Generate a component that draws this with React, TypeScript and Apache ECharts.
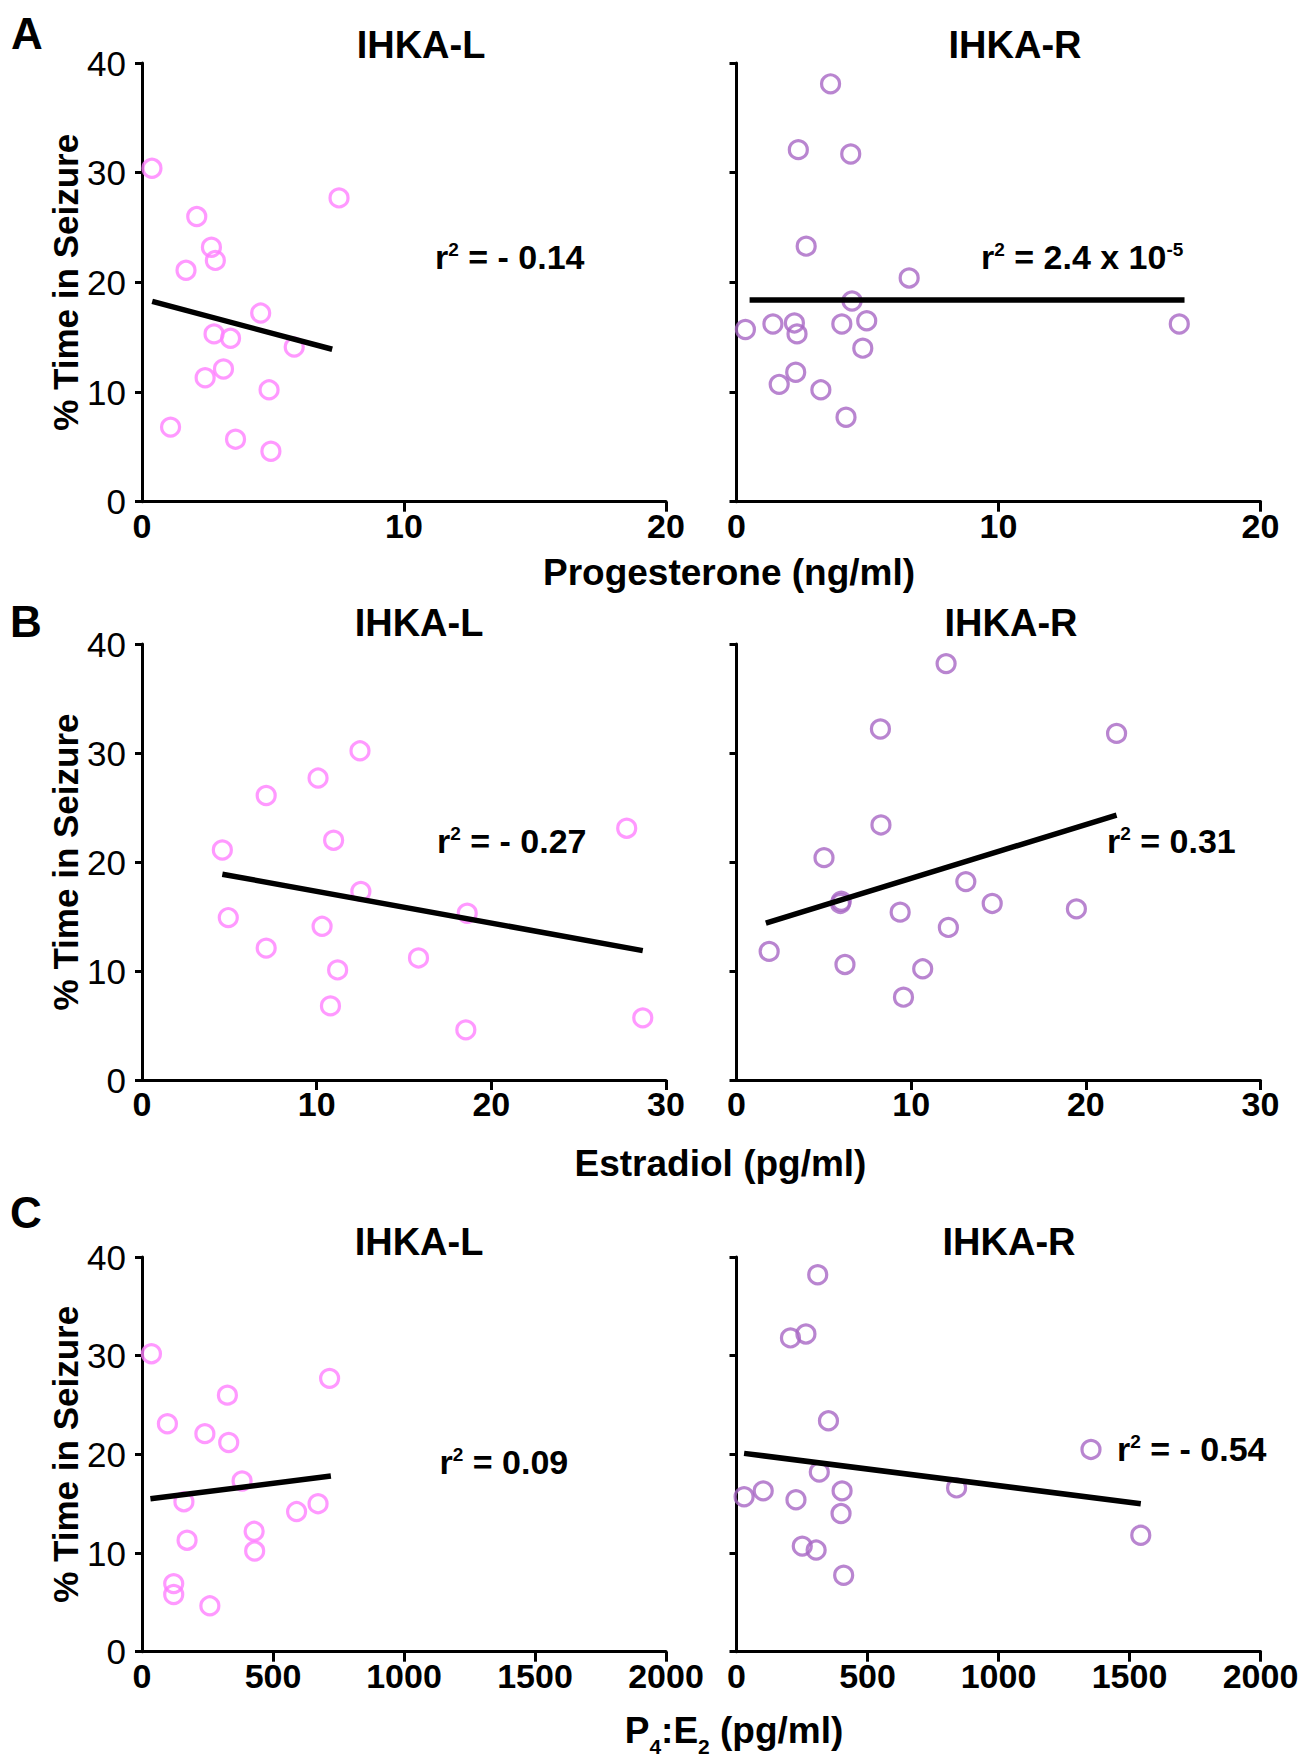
import React, { useEffect, useRef } from 'react';
import * as echarts from 'echarts';

const FONT = '"Liberation Sans", Arial, Helvetica, sans-serif';
const BLACK = '#000000';
const PINK = '#FF80FF';
const PURPLE = '#A866C4';

// ---- A: progesterone (ng/ml) vs % time in seizure
const progLeft = [0.38, 7.52, 2.09, 2.65, 2.8, 1.68, 4.53, 2.75, 3.38, 5.81, 3.11, 2.41, 4.85, 1.09, 3.57, 4.92];
const seizProgLeft = [30.4, 27.7, 26.0, 23.2, 22.0, 21.1, 17.2, 15.3, 14.9, 14.1, 12.1, 11.3, 10.2, 6.8, 5.7, 4.6];
const progRight = [3.59, 2.36, 4.36, 2.66, 6.59, 4.41, 0.34, 1.39, 2.21, 2.31, 4.02, 4.97, 4.82, 2.26, 1.63, 3.22, 4.18, 16.9];
const seizProgRight = [38.1, 32.1, 31.7, 23.3, 20.4, 18.3, 15.7, 16.2, 16.3, 15.3, 16.2, 16.5, 14.0, 11.8, 10.7, 10.2, 7.7, 16.2];
const fitProgLeft = [[0.39, 18.26], [7.26, 13.9]];
const fitProgRight = [[0.5, 18.4], [17.1, 18.4]];

// ---- B: estradiol (pg/ml) vs % time in seizure
const estLeft = [12.48, 10.08, 7.11, 27.75, 10.97, 4.6, 12.53, 18.62, 4.94, 10.31, 7.11, 15.83, 11.2, 10.79, 18.54, 28.67];
const seizEstLeft = [30.2, 27.7, 26.1, 23.1, 22.0, 21.1, 17.3, 15.3, 14.9, 14.1, 12.1, 11.2, 10.1, 6.8, 4.6, 5.7];
const estRight = [12.0, 8.24, 21.76, 8.27, 5.01, 13.13, 5.95, 6.0, 14.64, 19.46, 9.37, 12.13, 1.87, 6.21, 10.66, 9.56];
const seizEstRight = [38.2, 32.2, 31.8, 23.4, 20.4, 18.2, 16.2, 16.4, 16.2, 15.7, 15.4, 14.0, 11.8, 10.6, 10.2, 7.6];
const fitEstLeft = [[4.6, 18.88], [28.67, 11.87]];
const fitEstRight = [[1.68, 14.39], [21.76, 24.3]];

// ---- C: P4:E2 ratio vs % time in seizure
const ratioLeft = [36, 716, 326, 97, 240, 331, 382, 160, 672, 590, 428, 172, 430, 121, 121, 259];
const seizRatioLeft = [30.2, 27.7, 26.0, 23.1, 22.1, 21.2, 17.3, 15.2, 15.0, 14.2, 12.2, 11.3, 10.2, 6.9, 5.8, 4.65];
const ratioRight = [310, 206, 265, 351, 1353, 316, 29, 102, 227, 403, 399, 840, 1543, 251, 304, 409];
const seizRatioRight = [38.2, 31.8, 32.2, 23.4, 20.5, 18.2, 15.7, 16.3, 15.4, 16.3, 14.0, 16.6, 11.8, 10.7, 10.3, 7.75];
const fitRatioLeft = [[32, 15.5], [721, 17.8]];
const fitRatioRight = [[29, 20.1], [1543, 15.0]];

// axis ranges
const progTicks = [0, 10, 20];
const estTicks = [0, 10, 20, 30];
const ratioTicks = [0, 500, 1000, 1500, 2000];
const seizTicks = [0, 10, 20, 30, 40];

// r² annotations: [main text, optional exponent]
const r2Texts: [string, string][] = [
  [' = - 0.14', ''],
  [' = 2.4 x 10', '-5'],
  [' = - 0.27', ''],
  [' = 0.31', ''],
  [' = 0.09', ''],
  [' = - 0.54', ''],
];

const groupTitles = ['IHKA-L', 'IHKA-R'];
const panelLetters = ['A', 'B', 'C'];

// ---- layout (px)
const COL_LEFT = [142, 736.5];
const GRID_W = 524;
const ROWS = [
  { top: 63, height: 438.7 },
  { top: 644, height: 436 },
  { top: 1257, height: 394.7 },
];
const TITLE_POS = [
  [[421, 44.5], [1015, 44.5]],
  [[419, 623], [1011, 623]],
  [[419, 1242], [1009, 1242]],
];
const R2_POS = [
  [435, 256.5], [981, 257],
  [437, 840.5], [1107, 840.5],
  [439.5, 1461.6], [1117, 1449],
];
const LETTER_POS = [[27, 33], [26, 621], [26, 1212.5]];

const zip = (xs: number[], ys: number[]) => xs.map((x, i) => [x, ys[i]]);

const panels = [
  { row: 0, col: 0, xs: progLeft, ys: seizProgLeft, fit: fitProgLeft, color: PINK, ticks: progTicks },
  { row: 0, col: 1, xs: progRight, ys: seizProgRight, fit: fitProgRight, color: PURPLE, ticks: progTicks },
  { row: 1, col: 0, xs: estLeft, ys: seizEstLeft, fit: fitEstLeft, color: PINK, ticks: estTicks },
  { row: 1, col: 1, xs: estRight, ys: seizEstRight, fit: fitEstRight, color: PURPLE, ticks: estTicks },
  { row: 2, col: 0, xs: ratioLeft, ys: seizRatioLeft, fit: fitRatioLeft, color: PINK, ticks: ratioTicks },
  { row: 2, col: 1, xs: ratioRight, ys: seizRatioRight, fit: fitRatioRight, color: PURPLE, ticks: ratioTicks },
];

const axisLineStyle = { color: BLACK, width: 3 };

function boldText(x: number, y: number, text: string, size: number, align = 'center') {
  return {
    type: 'text',
    x,
    y,
    silent: true,
    style: {
      text,
      fill: BLACK,
      font: `bold ${size}px ${FONT}`,
      align,
      verticalAlign: 'middle',
      textAlign: align,
      textVerticalAlign: 'middle',
    },
  };
}

function richText(x: number, y: number, text: string, rich: any, align = 'left') {
  return {
    type: 'text',
    x,
    y,
    silent: true,
    style: {
      text,
      rich,
      fill: BLACK,
      font: `bold 34px ${FONT}`,
      align,
      verticalAlign: 'middle',
      textAlign: align,
      textVerticalAlign: 'middle',
    },
  };
}

function buildOption() {
  const grid = panels.map((p) => ({
    left: COL_LEFT[p.col],
    top: ROWS[p.row].top,
    width: GRID_W,
    height: ROWS[p.row].height,
    containLabel: false,
    outerBoundsMode: 'none',
  }));

  const xAxis = panels.map((p, i) => ({
    type: 'value',
    gridIndex: i,
    min: p.ticks[0],
    max: p.ticks[p.ticks.length - 1],
    interval: p.ticks[1] - p.ticks[0],
    axisLine: { show: true, onZero: false, lineStyle: axisLineStyle },
    axisTick: {
      show: true,
      inside: false,
      length: 10,
      lineStyle: axisLineStyle,
      customValues: p.ticks.slice(1),
    },
    axisLabel: {
      show: true,
      color: BLACK,
      fontFamily: FONT,
      fontSize: 34,
      fontWeight: 'bold',
      margin: 7,
      showMinLabel: true,
      showMaxLabel: true,
      formatter: (v: number) => String(v),
    },
    splitLine: { show: false },
  }));

  const yAxis = panels.map((p, i) => ({
    type: 'value',
    gridIndex: i,
    min: seizTicks[0],
    max: seizTicks[seizTicks.length - 1],
    interval: seizTicks[1] - seizTicks[0],
    axisLine: { show: true, onZero: false, lineStyle: axisLineStyle },
    axisTick: { show: true, inside: false, length: 7, lineStyle: axisLineStyle },
    axisLabel: {
      show: p.col === 0,
      color: BLACK,
      fontFamily: FONT,
      fontSize: 35,
      fontWeight: 'normal',
      margin: 16,
      showMinLabel: true,
      showMaxLabel: true,
      formatter: (v: number) => String(v),
    },
    splitLine: { show: false },
    name: p.col === 0 ? '% Time in Seizure' : '',
    nameLocation: 'middle',
    nameRotate: 90,
    nameGap: 55,
    nameTextStyle: { color: BLACK, fontFamily: FONT, fontSize: 35, fontWeight: 'bold' },
  }));

  const series: any[] = [];
  panels.forEach((p, i) => {
    series.push({
      type: 'scatter',
      xAxisIndex: i,
      yAxisIndex: i,
      data: zip(p.xs, p.ys),
      symbol: 'circle',
      symbolSize: 18,
      itemStyle: { color: 'rgba(255,255,255,0)', borderColor: p.color, borderWidth: 3.2 },
      emphasis: { disabled: true },
      silent: true,
      z: 2,
    });
    series.push({
      type: 'line',
      xAxisIndex: i,
      yAxisIndex: i,
      data: p.fit,
      symbol: 'none',
      lineStyle: { color: BLACK, width: 5.5 },
      emphasis: { disabled: true },
      silent: true,
      z: 3,
    });
  });

  const mainTok = { fontSize: 34, fontWeight: 'bold', fontFamily: FONT, fill: BLACK, color: BLACK, lineHeight: 34 };
  const supTok = { fontSize: 19, fontWeight: 'bold', fontFamily: FONT, fill: BLACK, color: BLACK, lineHeight: 19, verticalAlign: 'top' };
  const r2Rich = { m: mainTok, s: supTok };

  const graphic: any[] = [];
  panelLetters.forEach((l, r) => {
    graphic.push(boldText(LETTER_POS[r][0], LETTER_POS[r][1], l, 44));
    groupTitles.forEach((t, c) => {
      graphic.push(boldText(TITLE_POS[r][c][0], TITLE_POS[r][c][1], t, 38));
    });
  });
  r2Texts.forEach(([main, exp], i) => {
    const text = `{m|r}{s|2}{m|${main}}` + (exp ? `{s|${exp}}` : '');
    graphic.push(richText(R2_POS[i][0], R2_POS[i][1], text, r2Rich));
  });

  // shared x-axis titles
  graphic.push(boldText(729, 572, 'Progesterone (ng/ml)', 37));
  graphic.push(boldText(720.5, 1163, 'Estradiol (pg/ml)', 37));
  const nameTok = { fontSize: 37, fontWeight: 'bold', fontFamily: FONT, fill: BLACK, color: BLACK, lineHeight: 37 };
  const subTok = {
    fontSize: 21, fontWeight: 'bold', fontFamily: FONT, fill: BLACK, color: BLACK,
    lineHeight: 21, verticalAlign: 'top', padding: [24, 0, 0, 0],
  };
  graphic.push(richText(734, 1730, '{n|P}{b|4}{n|:E}{b|2}{n| (pg/ml)}', { n: nameTok, b: subTok }, 'center'));

  return {
    animation: false,
    backgroundColor: '#ffffff',
    grid,
    xAxis,
    yAxis,
    series,
    graphic,
  };
}

export default function App() {
  const ref = useRef<HTMLDivElement>(null);
  useEffect(() => {
    document.body.style.margin = '0';
    const chart = echarts.init(ref.current as HTMLDivElement, null, { renderer: 'svg' });
    chart.setOption(buildOption() as any);
    return () => chart.dispose();
  }, []);
  return <div ref={ref} style={{ width: 1306, height: 1763, background: '#ffffff' }} />;
}
